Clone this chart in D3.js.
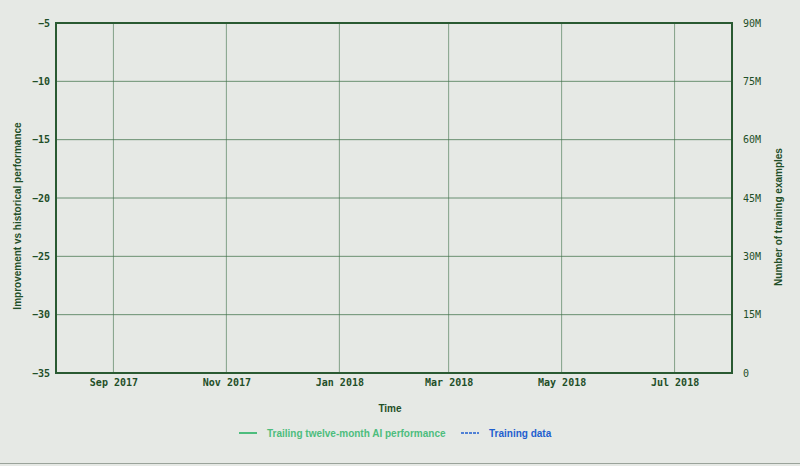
<!DOCTYPE html>
<html>
<head>
<meta charset="utf-8">
<script src="https://cdn.jsdelivr.net/npm/d3@7"></script>
<style>
  html, body { margin: 0; padding: 0; background: #e6e9e5; }
  svg { display: block; }
  .tick text { font-family: "DejaVu Sans Mono", monospace; font-size: 10px; fill: #1f4f28; }
  .y-left .tick text, .x-axis .tick text { font-weight: bold; }
  .axis-title { font-family: "Liberation Sans", Arial, sans-serif; font-size: 10px; font-weight: bold; fill: #1f4f28; }
  .legend-text { font-family: "Liberation Sans", Arial, sans-serif; font-size: 10px; font-weight: bold; }
</style>
</head>
<body>
<div id="chart"></div>
<script>
// date range shown on the x axis
var timeDomain = ["2017-08-01", "2018-08-01"];
var xTickDates = ["2017-09-01", "2017-11-01", "2018-01-01", "2018-03-01", "2018-05-01", "2018-07-01"];

// left axis: improvement vs historical performance
var perfTicks = [-35, -30, -25, -20, -15, -10, -5];
// right axis: number of training examples
var trainTicks = [0, 15e6, 30e6, 45e6, 60e6, 75e6, 90e6];

// series (nothing is plotted in the reference)
var perfDates = [];
var perfValues = [];
var trainDates = [];
var trainValues = [];

var legendLabels = ["Trailing twelve-month AI performance", "Training data"];

var svgWidth = 800;
var svgHeight = 466;

var margin = { top: 23, right: 68, bottom: 93, left: 56 };
var width = svgWidth - margin.left - margin.right;
var height = svgHeight - margin.top - margin.bottom;

var parse = d3.timeParse("%Y-%m-%d");

var svg = d3.select("#chart")
  .append("svg")
  .attr("width", svgWidth)
  .attr("height", svgHeight);

var chartGroup = svg.append("g")
  .attr("transform", `translate(${margin.left}, ${margin.top})`);

var xScale = d3.scaleTime()
  .domain(timeDomain.map(parse))
  .range([0, width]);

var yLeft = d3.scaleLinear()
  .domain([d3.min(perfTicks), d3.max(perfTicks)])
  .range([height, 0]);

var yRight = d3.scaleLinear()
  .domain([d3.min(trainTicks), d3.max(trainTicks)])
  .range([height, 0]);

// grid lines
chartGroup.append("g")
  .selectAll("line")
  .data(perfTicks)
  .enter()
  .append("line")
  .attr("x1", 0)
  .attr("x2", width)
  .attr("y1", d => yLeft(d))
  .attr("y2", d => yLeft(d))
  .attr("stroke", "#3f7249")
  .attr("stroke-opacity", 0.75)
  .attr("stroke-width", 1);

chartGroup.append("g")
  .selectAll("line")
  .data(xTickDates.map(parse))
  .enter()
  .append("line")
  .attr("x1", d => xScale(d))
  .attr("x2", d => xScale(d))
  .attr("y1", 0)
  .attr("y2", height)
  .attr("stroke", "#3f7249")
  .attr("stroke-opacity", 0.6)
  .attr("stroke-width", 1);

// frame
chartGroup.append("rect")
  .attr("x", 0)
  .attr("y", 0)
  .attr("width", width)
  .attr("height", height)
  .attr("fill", "none")
  .attr("stroke", "#2a5a32")
  .attr("stroke-width", 2);

// axes
var bottomAxis = d3.axisBottom(xScale)
  .tickValues(xTickDates.map(parse))
  .tickFormat(d3.timeFormat("%b %Y"))
  .tickSize(0)
  .tickPadding(6);

var leftAxis = d3.axisLeft(yLeft)
  .tickValues(perfTicks)
  .tickFormat(d3.format("d"))
  .tickSize(0)
  .tickPadding(6);

var rightAxis = d3.axisRight(yRight)
  .tickValues(trainTicks)
  .tickFormat(d => d === 0 ? "0" : (d / 1e6) + "M")
  .tickSize(0)
  .tickPadding(11);

chartGroup.append("g")
  .classed("x-axis", true)
  .attr("transform", `translate(0, ${height})`)
  .call(bottomAxis)
  .call(g => g.select(".domain").remove());

chartGroup.append("g")
  .classed("y-left", true)
  .call(leftAxis)
  .call(g => g.select(".domain").remove());

chartGroup.append("g")
  .classed("y-right", true)
  .attr("transform", `translate(${width}, 0)`)
  .call(rightAxis)
  .call(g => g.select(".domain").remove());

// series lines
var perfLine = d3.line()
  .x((d, i) => xScale(parse(perfDates[i])))
  .y(d => yLeft(d));

var trainLine = d3.line()
  .x((d, i) => xScale(parse(trainDates[i])))
  .y(d => yRight(d));

chartGroup.append("path")
  .datum(perfValues)
  .attr("fill", "none")
  .attr("stroke", "#4dbd7d")
  .attr("stroke-width", 2)
  .attr("d", perfLine);

chartGroup.append("path")
  .datum(trainValues)
  .attr("fill", "none")
  .attr("stroke", "#1f5fcf")
  .attr("stroke-width", 2)
  .attr("stroke-dasharray", "3,2")
  .attr("d", trainLine);

// axis titles
svg.append("text")
  .attr("class", "axis-title")
  .attr("x", 390)
  .attr("y", 412)
  .attr("text-anchor", "middle")
  .text("Time");

svg.append("text")
  .attr("class", "axis-title")
  .attr("transform", "translate(21, 216) rotate(-90)")
  .attr("text-anchor", "middle")
  .text("Improvement vs historical performance");

svg.append("text")
  .attr("class", "axis-title")
  .attr("transform", "translate(782, 217) rotate(-90)")
  .attr("text-anchor", "middle")
  .text("Number of training examples");

// legend
var legend = svg.append("g").attr("transform", "translate(239, 433)");

legend.append("line")
  .attr("x1", 0).attr("x2", 18)
  .attr("y1", 0).attr("y2", 0)
  .attr("stroke", "#4dbd7d")
  .attr("stroke-width", 2);

legend.append("text")
  .attr("class", "legend-text")
  .attr("x", 28)
  .attr("y", 4)
  .attr("fill", "#4dbd7d")
  .text(legendLabels[0]);

legend.append("line")
  .attr("x1", 222).attr("x2", 240)
  .attr("y1", 0).attr("y2", 0)
  .attr("stroke", "#1f5fcf")
  .attr("stroke-width", 1.5)
  .attr("stroke-dasharray", "3,1");

legend.append("text")
  .attr("class", "legend-text")
  .attr("x", 250)
  .attr("y", 4)
  .attr("fill", "#1f5fcf")
  .text(legendLabels[1]);

// bottom rule
svg.append("line")
  .attr("x1", 0).attr("x2", svgWidth)
  .attr("y1", 463.5).attr("y2", 463.5)
  .attr("stroke", "#9aa39a")
  .attr("stroke-width", 1);
</script>
</body>
</html>
